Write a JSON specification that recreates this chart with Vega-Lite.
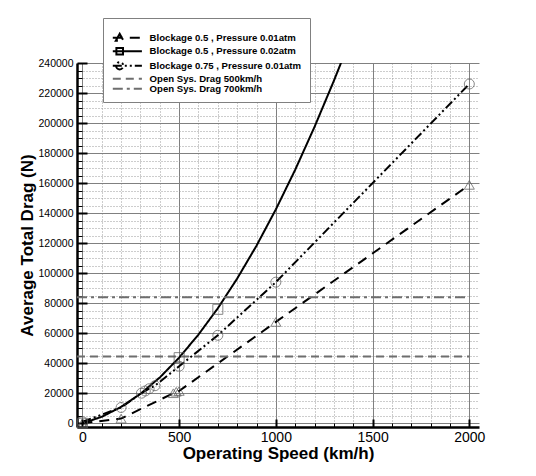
{
  "$schema": "https://vega.github.io/schema/vega-lite/v6.json",
  "autosize": "none",
  "width": 402,
  "height": 364,
  "padding": {"left": 77, "top": 63, "right": 57, "bottom": 49},
  "background": "white",
  "config": {
    "font": "Liberation Sans",
    "view": {"stroke": null},
    "axis": {"labelFont": "Liberation Sans", "titleFont": "Liberation Sans", "labelColor": "black", "titleColor": "black"}
  },
  "datasets": {
    "lines": [
      {"s": "Blockage 0.5 , Pressure 0.01atm", "x": 0, "y": 0},
      {"s": "Blockage 0.5 , Pressure 0.01atm", "x": 200, "y": 3100},
      {"s": "Blockage 0.5 , Pressure 0.01atm", "x": 470, "y": 20000},
      {"s": "Blockage 0.5 , Pressure 0.01atm", "x": 500, "y": 21500},
      {"s": "Blockage 0.5 , Pressure 0.01atm", "x": 1000, "y": 67500},
      {"s": "Blockage 0.5 , Pressure 0.01atm", "x": 2000, "y": 158800},
      {"s": "Blockage 0.5 , Pressure 0.02atm", "x": 0, "y": 0},
      {"s": "Blockage 0.5 , Pressure 0.02atm", "x": 100, "y": 4300},
      {"s": "Blockage 0.5 , Pressure 0.02atm", "x": 200, "y": 10900},
      {"s": "Blockage 0.5 , Pressure 0.02atm", "x": 300, "y": 19600},
      {"s": "Blockage 0.5 , Pressure 0.02atm", "x": 400, "y": 30500},
      {"s": "Blockage 0.5 , Pressure 0.02atm", "x": 500, "y": 43700},
      {"s": "Blockage 0.5 , Pressure 0.02atm", "x": 600, "y": 59100},
      {"s": "Blockage 0.5 , Pressure 0.02atm", "x": 700, "y": 76600},
      {"s": "Blockage 0.5 , Pressure 0.02atm", "x": 800, "y": 96400},
      {"s": "Blockage 0.5 , Pressure 0.02atm", "x": 900, "y": 118300},
      {"s": "Blockage 0.5 , Pressure 0.02atm", "x": 1000, "y": 142500},
      {"s": "Blockage 0.5 , Pressure 0.02atm", "x": 1100, "y": 168900},
      {"s": "Blockage 0.5 , Pressure 0.02atm", "x": 1200, "y": 197500},
      {"s": "Blockage 0.5 , Pressure 0.02atm", "x": 1300, "y": 228200},
      {"s": "Blockage 0.5 , Pressure 0.02atm", "x": 1350, "y": 244400},
      {"s": "Blockage 0.75 , Pressure 0.01atm", "x": 0, "y": 1000},
      {"s": "Blockage 0.75 , Pressure 0.01atm", "x": 200, "y": 10500},
      {"s": "Blockage 0.75 , Pressure 0.01atm", "x": 305, "y": 20000},
      {"s": "Blockage 0.75 , Pressure 0.01atm", "x": 325, "y": 21500},
      {"s": "Blockage 0.75 , Pressure 0.01atm", "x": 345, "y": 23000},
      {"s": "Blockage 0.75 , Pressure 0.01atm", "x": 375, "y": 25000},
      {"s": "Blockage 0.75 , Pressure 0.01atm", "x": 500, "y": 38000},
      {"s": "Blockage 0.75 , Pressure 0.01atm", "x": 700, "y": 58600},
      {"s": "Blockage 0.75 , Pressure 0.01atm", "x": 1000, "y": 94000},
      {"s": "Blockage 0.75 , Pressure 0.01atm", "x": 2000, "y": 226000},
      {"s": "Open Sys. Drag 500km/h", "x": -28, "y": 44500},
      {"s": "Open Sys. Drag 500km/h", "x": 2000, "y": 44500},
      {"s": "Open Sys. Drag 700km/h", "x": -28, "y": 84000},
      {"s": "Open Sys. Drag 700km/h", "x": 2000, "y": 84000}
    ],
    "markers": [
      {"s": "Blockage 0.5 , Pressure 0.01atm", "x": 0, "y": 0},
      {"s": "Blockage 0.5 , Pressure 0.01atm", "x": 200, "y": 3100},
      {"s": "Blockage 0.5 , Pressure 0.01atm", "x": 470, "y": 20000},
      {"s": "Blockage 0.5 , Pressure 0.01atm", "x": 485, "y": 21000},
      {"s": "Blockage 0.5 , Pressure 0.01atm", "x": 500, "y": 21500},
      {"s": "Blockage 0.5 , Pressure 0.01atm", "x": 1000, "y": 67500},
      {"s": "Blockage 0.5 , Pressure 0.01atm", "x": 2000, "y": 158800},
      {"s": "Blockage 0.5 , Pressure 0.02atm", "x": 0, "y": 0},
      {"s": "Blockage 0.5 , Pressure 0.02atm", "x": 500, "y": 43700},
      {"s": "Blockage 0.5 , Pressure 0.02atm", "x": 700, "y": 75900},
      {"s": "Blockage 0.75 , Pressure 0.01atm", "x": 0, "y": 1000},
      {"s": "Blockage 0.75 , Pressure 0.01atm", "x": 200, "y": 10500},
      {"s": "Blockage 0.75 , Pressure 0.01atm", "x": 305, "y": 20000},
      {"s": "Blockage 0.75 , Pressure 0.01atm", "x": 325, "y": 21500},
      {"s": "Blockage 0.75 , Pressure 0.01atm", "x": 345, "y": 23000},
      {"s": "Blockage 0.75 , Pressure 0.01atm", "x": 375, "y": 25000},
      {"s": "Blockage 0.75 , Pressure 0.01atm", "x": 500, "y": 38000},
      {"s": "Blockage 0.75 , Pressure 0.01atm", "x": 700, "y": 58600},
      {"s": "Blockage 0.75 , Pressure 0.01atm", "x": 1000, "y": 94000},
      {"s": "Blockage 0.75 , Pressure 0.01atm", "x": 2000, "y": 226000}
    ]
  },
  "layer": [
    {
      "data": {"name": "lines"},
      "mark": {"type": "line", "clip": true},
      "encoding": {
        "x": {"field": "x", "type": "quantitative", "scale": {"domain": [-28, 2050], "nice": false, "zero": false},
          "axis": {"orient": "bottom", "values": [0, 500, 1000, 1500, 2000], "format": "d", "title": "Operating Speed (km/h)", "titleFontSize": 17, "titleFontWeight": "bold", "titlePadding": 1, "labelFontSize": 14, "labelPadding": 11, "grid": true, "gridColor": "#808080", "gridWidth": 1, "tickSize": -8, "tickWidth": 2, "tickColor": "black", "domainColor": "black", "domainWidth": 2.5}},
        "y": {"field": "y", "type": "quantitative", "scale": {"domain": [-2500, 240000], "nice": false, "zero": false},
          "axis": {"orient": "left", "values": [0,20000,40000,60000,80000,100000,120000,140000,160000,180000,200000,220000,240000], "format": "d", "title": "Average Total Drag (N)", "titleFontSize": 17, "titleFontWeight": "bold", "titlePadding": 1, "labelFontSize": 10.5, "labelPadding": 14, "grid": true, "gridColor": "#808080", "gridWidth": 1, "tickSize": -10, "tickWidth": 2, "tickColor": "black", "domainColor": "black", "domainWidth": 2.5}},
        "color": {"field": "s", "type": "nominal",
          "scale": {"domain": ["Blockage 0.5 , Pressure 0.01atm", "Blockage 0.5 , Pressure 0.02atm", "Blockage 0.75 , Pressure 0.01atm", "Open Sys. Drag 500km/h", "Open Sys. Drag 700km/h"], "range": ["black", "black", "black", "#6e6e6e", "#6e6e6e"]},
          "legend": {"title": " ", "titleFontSize": 2, "titlePadding": 5, "orient": "none", "legendX": 26, "legendY": -45, "symbolSize": 36, "symbolStrokeWidth": 2, "labelFont": "Liberation Sans", "labelFontWeight": "bold", "labelFontSize": 9.6, "labelColor": "black", "labelOffset": 29, "labelLimit": 400, "rowPadding": -1.5, "padding": 8, "fillColor": "white", "strokeColor": "#808080", "cornerRadius": 0,
            "encode": {"symbols": {"update": {"fill": {"value": "transparent"}, "shape": {"signal": "datum.value === 'Blockage 0.5 , Pressure 0.01atm' ? 'M-1,0H8.7M1.3,-1.3L0,1L2.6,1Z' : datum.value === 'Blockage 0.5 , Pressure 0.02atm' ? 'M-1,0H8.7M0.2,-1.1H2.4V1.1H0.2Z' : datum.value === 'Blockage 0.75 , Pressure 0.01atm' ? 'M-1,0H8.7M0.1,0A1.2,1.2 0 1,0 2.5,0A1.2,1.2 0 1,0 0.1,0' : 'M-1,0H8.7'"}}}}}},
        "strokeDash": {"field": "s", "type": "nominal", "title": " ",
          "scale": {"domain": ["Blockage 0.5 , Pressure 0.01atm", "Blockage 0.5 , Pressure 0.02atm", "Blockage 0.75 , Pressure 0.01atm", "Open Sys. Drag 500km/h", "Open Sys. Drag 700km/h"], "range": [[10, 7], [1, 0], [9, 3, 2, 3, 2, 3], [8, 5], [10, 4, 3, 4]]}},
        "strokeWidth": {"field": "s", "type": "nominal", "title": null, "legend": null,
          "scale": {"domain": ["Blockage 0.5 , Pressure 0.01atm", "Blockage 0.5 , Pressure 0.02atm", "Blockage 0.75 , Pressure 0.01atm", "Open Sys. Drag 500km/h", "Open Sys. Drag 700km/h"], "range": [2, 2, 1.8, 2.8, 2.5]}}
      }
    },
    {
      "data": {"name": "markers"},
      "mark": {"type": "point", "filled": false, "size": 100, "strokeWidth": 1, "color": "#555"},
      "encoding": {
        "x": {"field": "x", "type": "quantitative",
          "axis": {"orient": "bottom", "values": [100,200,300,400,600,700,800,900,1100,1200,1300,1400,1600,1700,1800,1900], "labels": false, "domain": false, "title": null, "grid": true, "gridColor": "#9a9a9a", "gridDash": [1,2], "gridWidth": 1, "tickSize": -4, "tickColor": "black", "tickWidth": 1}},
        "y": {"field": "y", "type": "quantitative",
          "axis": {"orient": "left", "values": [5000,10000,15000,25000,30000,35000,45000,50000,55000,65000,70000,75000,85000,90000,95000,105000,110000,115000,125000,130000,135000,145000,150000,155000,165000,170000,175000,185000,190000,195000,205000,210000,215000,225000,230000,235000], "labels": false, "domain": false, "title": null, "grid": true, "gridColor": "#9a9a9a", "gridDash": [1,2], "gridWidth": 1, "tickSize": -5, "tickColor": "black", "tickWidth": 1}},
        "shape": {"field": "s", "type": "nominal", "legend": null,
          "scale": {"domain": ["Blockage 0.5 , Pressure 0.01atm", "Blockage 0.5 , Pressure 0.02atm", "Blockage 0.75 , Pressure 0.01atm"], "range": ["triangle-up", "square", "circle"]}}
      }
    }
  ],
  "resolve": {"axis": {"x": "independent", "y": "independent"}}
}
